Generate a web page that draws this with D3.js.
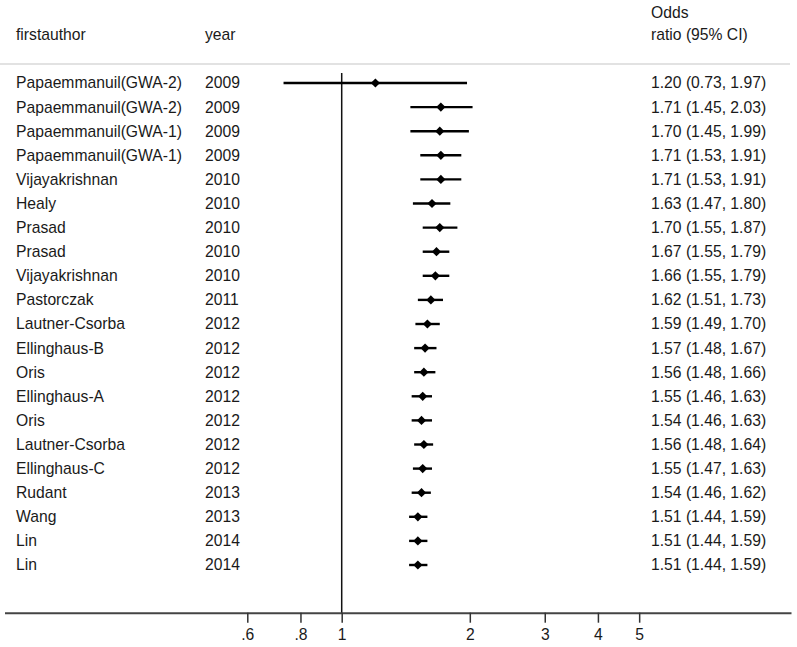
<!DOCTYPE html>
<html>
<head>
<meta charset="utf-8">
<script src="https://cdn.jsdelivr.net/npm/d3@7"></script>
<style>
  html, body { margin: 0; padding: 0; background: #fff; }
  svg { display: block; font-family: Arial, "Liberation Sans", sans-serif; }
</style>
</head>
<body>
<svg id="chart" width="797" height="647"></svg>
<script>
const authors = ["Papaemmanuil(GWA-2)","Papaemmanuil(GWA-2)","Papaemmanuil(GWA-1)","Papaemmanuil(GWA-1)","Vijayakrishnan","Healy","Prasad","Prasad","Vijayakrishnan","Pastorczak","Lautner-Csorba","Ellinghaus-B","Oris","Ellinghaus-A","Oris","Lautner-Csorba","Ellinghaus-C","Rudant","Wang","Lin","Lin"];
const years = [2009,2009,2009,2009,2010,2010,2010,2010,2010,2011,2012,2012,2012,2012,2012,2012,2012,2013,2013,2014,2014];
const orValues = [1.20,1.71,1.70,1.71,1.71,1.63,1.70,1.67,1.66,1.62,1.59,1.57,1.56,1.55,1.54,1.56,1.55,1.54,1.51,1.51,1.51];
const ciLow = [0.73,1.45,1.45,1.53,1.53,1.47,1.55,1.55,1.55,1.51,1.49,1.48,1.48,1.46,1.46,1.48,1.47,1.46,1.44,1.44,1.44];
const ciHigh = [1.97,2.03,1.99,1.91,1.91,1.80,1.87,1.79,1.79,1.73,1.70,1.67,1.66,1.63,1.63,1.64,1.63,1.62,1.59,1.59,1.59];
const tickValues = [0.6, 0.8, 1, 2, 3, 4, 5];
const tickLabels = [".6", ".8", "1", "2", "3", "4", "5"];

const svg = d3.select("#chart");
const FS = "15.7px";
const textColor = "#1a1a1a";

const x = d3.scaleLog().domain([0.1613, 11.37]).range([4.5, 791]);
const y = d3.scalePoint().domain(d3.range(authors.length)).range([83, 565]);

const fmt = d3.format(".2f");

// headers
svg.append("text").attr("x", 16).attr("y", 35).attr("dy", "0.35em")
  .attr("font-size", FS).attr("fill", textColor).text("firstauthor");
svg.append("text").attr("x", 205).attr("y", 35).attr("dy", "0.35em")
  .attr("font-size", FS).attr("fill", textColor).text("year");
svg.append("text").attr("x", 651).attr("y", 13).attr("dy", "0.35em")
  .attr("font-size", FS).attr("fill", textColor).text("Odds");
svg.append("text").attr("x", 651).attr("y", 35).attr("dy", "0.35em")
  .attr("font-size", FS).attr("fill", textColor).text("ratio (95% CI)");

// header separator
svg.append("line").attr("x1", 0).attr("x2", 790).attr("y1", 64).attr("y2", 64)
  .attr("stroke", "#d8d8d8").attr("stroke-width", 1.5);

// null line
svg.append("line").attr("x1", x(1)).attr("x2", x(1)).attr("y1", 73).attr("y2", 613)
  .attr("stroke", "#111").attr("stroke-width", 1.5);

// axis
const axis = d3.axisBottom(x).tickValues(tickValues)
  .tickFormat((d, i) => tickLabels[i]).tickSize(10).tickSizeOuter(0).tickPadding(6);
const gAxis = svg.append("g").attr("transform", "translate(0,612.7)").call(axis);
gAxis.select(".domain").attr("stroke", "#444").attr("stroke-width", 2);
gAxis.selectAll(".tick line").attr("stroke", "#333").attr("stroke-width", 1.5);
gAxis.selectAll(".tick text").attr("font-size", FS).attr("fill", textColor)
  .attr("font-family", "Arial, 'Liberation Sans', sans-serif");

const rows = d3.range(authors.length);

// row text
svg.append("g").selectAll("text.author").data(rows).join("text")
  .attr("x", 16).attr("y", i => y(i)).attr("dy", "0.35em")
  .attr("font-size", FS).attr("fill", textColor).text(i => authors[i]);
svg.append("g").selectAll("text.year").data(rows).join("text")
  .attr("x", 205).attr("y", i => y(i)).attr("dy", "0.35em")
  .attr("font-size", FS).attr("fill", textColor).text(i => years[i]);
svg.append("g").selectAll("text.or").data(rows).join("text")
  .attr("x", 651).attr("y", i => y(i)).attr("dy", "0.35em")
  .attr("font-size", FS).attr("fill", textColor)
  .text(i => `${fmt(orValues[i])} (${fmt(ciLow[i])}, ${fmt(ciHigh[i])})`);

// CI lines
svg.append("g").selectAll("line").data(rows).join("line")
  .attr("x1", i => x(ciLow[i])).attr("x2", i => x(ciHigh[i]))
  .attr("y1", i => y(i)).attr("y2", i => y(i))
  .attr("stroke", "#000").attr("stroke-width", 2.4);

// diamonds
const dsz = 4.6;
svg.append("g").selectAll("path").data(rows).join("path")
  .attr("d", i => {
    const cx = x(orValues[i]), cy = y(i);
    return `M${cx - dsz},${cy}L${cx},${cy - dsz}L${cx + dsz},${cy}L${cx},${cy + dsz}Z`;
  })
  .attr("fill", "#000");
</script>
</body>
</html>
